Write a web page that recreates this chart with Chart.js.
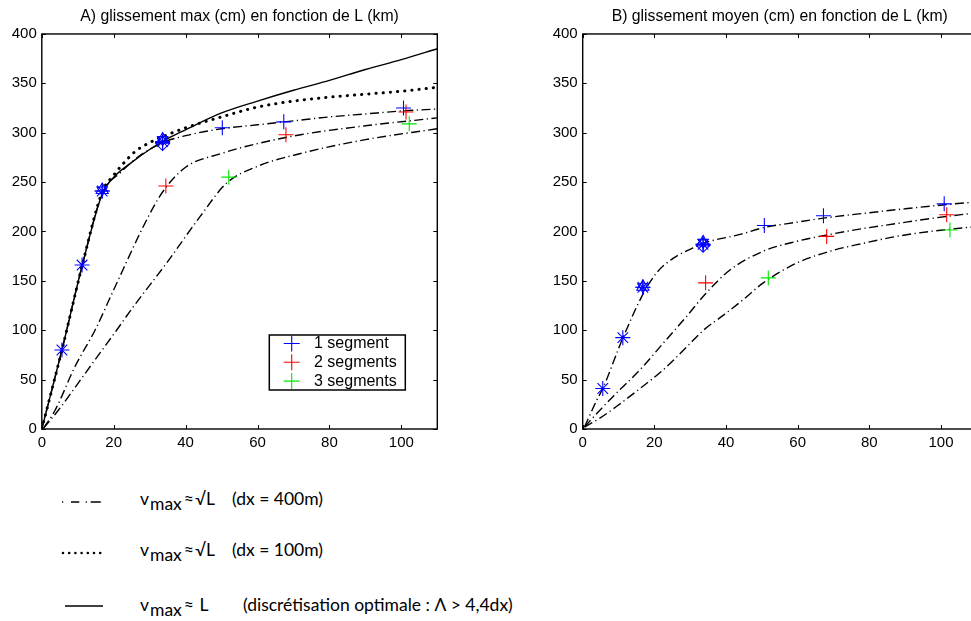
<!DOCTYPE html>
<html>
<head>
<meta charset="utf-8">
<script src="https://cdn.jsdelivr.net/npm/chart.js@4.4.1/dist/chart.umd.min.js"></script>
<style>
  html, body { margin: 0; padding: 0; background: #fff; overflow: hidden; width: 971px; height: 621px; }
  #boxA { position: absolute; left: 0; top: 0; }
  #boxB { position: absolute; left: 530px; top: 0; }
  .key { position: absolute; font-family: Lato, "Open Sans", sans-serif; font-size: 17.5px; line-height: 20px; color: #000; white-space: nowrap; }
  .key sub { font-size: 17.5px; vertical-align: -5px; line-height: 0; margin-left: 1px; }
  .key .ap { margin: 0 1px 0 2px; }
  svg.sample { position: absolute; left: 0; top: 0; }
</style>
</head>
<body>
<canvas id="boxA" width="450" height="460"></canvas>
<canvas id="boxB" width="460" height="460"></canvas>

<svg class="sample" width="120" height="621">
  <path d="M62 502 H102" stroke="#000" stroke-width="1.4" fill="none" stroke-dasharray="1.2 7.8 8.3 6.4 1.2 3.8 10"></path>
  <path d="M63 553 H101" stroke="#000" stroke-width="2.6" fill="none" stroke-linecap="round" stroke-dasharray="0 6.2"></path>
  <path d="M65 606 H103" stroke="#000" stroke-width="1.4" fill="none"></path>
</svg>
<div class="key" style="left:140px; top:489px">v<sub>max</sub><span class="ap">≈</span>√L</div>
<div class="key" style="left:232px; top:489px">(dx = 400m)</div>
<div class="key" style="left:140px; top:540px">v<sub>max</sub><span class="ap">≈</span>√L</div>
<div class="key" style="left:232px; top:540px">(dx = 100m)</div>
<div class="key" style="left:140px; top:595px">v<sub>max</sub><span class="ap">≈</span> L</div>
<div class="key" style="left:243px; top:595px">(discrétisation optimale : Λ &gt; 4,4dx)</div>

<script>
/***********************
 * DATA
 ***********************/
const tickL = [0, 20, 40, 60, 80, 100];
const tickV = [0, 50, 100, 150, 200, 250, 300, 350, 400];

// A) glissement max - courbes
const aSolidL = [0, 5.6, 11.2, 16.8, 20, 25, 30, 35, 40, 50, 60, 70, 80, 90, 100, 110];
const aSolidV = [0, 80, 165, 238, 255, 270, 283, 294, 303, 320, 332, 343, 353, 364, 374, 385];
const aDotL = [0, 5.6, 11.2, 16.8, 20, 22, 26, 30, 35, 40, 50, 60, 70, 80, 90, 100, 110];
const aDotV = [0, 80, 165, 240, 257, 266, 281, 290, 298, 305, 316, 326, 332, 336, 339, 342, 346];
const aDd1L = [0, 5.6, 11.2, 16.8, 22, 27, 33.6, 40, 50, 60, 70, 80, 90, 100, 110];
const aDd1V = [0, 80, 165, 238, 260, 276, 290, 297, 304, 308, 312, 316, 319, 322, 324];
const aDd2L = [0.5, 3.7, 9.2, 14.8, 20, 29.2, 33.6, 40, 50, 60, 72, 90, 110];
const aDd2V = [1, 19, 63, 100, 141, 212, 240, 265, 279, 289, 298, 307, 315];
const aDd3L = [0.5, 4.6, 12, 16.2, 20.8, 25.5, 34.7, 44, 51.4, 60, 72, 90, 110];
const aDd3V = [1, 19, 56, 77, 100, 124, 168, 215, 249, 266, 279, 293, 304];

// A) glissement max - points
const aStarL = [5.6, 11.2, 16.8, 33.6];
const aStarV = [80, 166, 241, 291];
const aBlueL = [16.8, 33.6, 50.2, 67.3, 100.6];
const aBlueV = [241, 290, 305, 311, 325];
const aRedL = [34.5, 67.9, 101.3];
const aRedV = [246, 298, 321];
const aGreenL = [52, 102.2];
const aGreenV = [255, 309];
const aTriL = [16.8, 33.6];
const aTriV = [242, 293];
const aDiaL = [33.6];
const aDiaV = [289];

// B) glissement moyen - courbes
const bDd1L = [0.5, 3.9, 5.6, 11.2, 16.9, 20.6, 25.3, 31.8, 33.6, 43.9, 50.7, 60, 67.2, 80, 90, 100.9, 110];
const bDd1V = [2, 29, 41, 92, 137, 158, 173, 185, 188, 197, 204, 209.5, 213.5, 219, 223, 227, 230];
const bDd2L = [0.5, 4, 8.5, 16, 22.5, 29, 34.3, 41.1, 50.4, 59.7, 69, 78.3, 87.6, 96.9, 110];
const bDd2V = [2, 16, 33, 60, 87, 114, 137, 161, 180, 190, 197, 203, 208, 213, 219];
const bDd3L = [0.5, 4.8, 9.5, 16, 22.5, 29, 33.7, 39.2, 44.8, 50.4, 59.7, 69, 78.3, 87.6, 96.9, 110];
const bDd3V = [2, 11, 23, 41, 60, 83, 100, 115, 131, 148, 168, 180, 188, 195, 200, 205];

// B) glissement moyen - points
const bStarL = [5.6, 11.2, 16.8, 33.6];
const bStarV = [41, 92.5, 143.5, 187];
const bBlueL = [16.8, 33.6, 50.7, 67.2, 100.9];
const bBlueV = [143.5, 187, 206, 216, 228];
const bRedL = [34.3, 68.1, 101.6];
const bRedV = [148, 195, 217];
const bGreenL = [51.8, 102.5];
const bGreenV = [153, 201.5];
const bTriL = [16.8, 33.6];
const bTriV = [144, 189];
const bDiaL = [33.6];
const bDiaV = [186];

/***********************
 * STYLES
 ***********************/
const FONT = '"Liberation Sans", Helvetica, Arial, sans-serif';
const BLUE = '#0000ff';
const RED = '#ff0000';
const GREEN = '#00e600';

const pts = (xs, ys) => xs.map((x, i) => ({ x, y: ys[i] }));

function curve(xs, ys, style) {
    return Object.assign({
        data: pts(xs, ys), showLine: true, pointRadius: 0, borderColor: '#000',
        borderWidth: 1.4, cubicInterpolationMode: 'monotone', fill: false
    }, style);
}

function marks(xs, ys, color, pointStyle, extra) {
    return Object.assign({
        data: pts(xs, ys), showLine: false, pointStyle, pointRadius: 7.5,
        borderColor: color, pointBorderColor: color, backgroundColor: 'transparent',
        pointBackgroundColor: 'transparent', pointBorderWidth: 1.1
    }, extra);
}

const dashDot = { borderDash: [9, 3.5, 1.2, 3.5] };
const dotted = { borderDash: [0.2, 7], borderCapStyle: 'round', borderWidth: 3 };

/***********************
 * PLUGINS
 ***********************/
// box around the plot, ticks pointing inward on all sides
const frame = {
    id: 'frame',
    afterDatasetsDraw(chart) {
        const { ctx, chartArea: a, scales: { x, y } } = chart;
        ctx.save();
        ctx.strokeStyle = '#000';
        ctx.lineWidth = 1.4;
        ctx.strokeRect(a.left, a.top, a.width, a.height);
        ctx.lineWidth = 1;
        ctx.beginPath();
        x.ticks.forEach(t => {
            const px = Math.round(x.getPixelForValue(t.value)) + 0.5;
            ctx.moveTo(px, a.bottom); ctx.lineTo(px, a.bottom - 4);
            ctx.moveTo(px, a.top); ctx.lineTo(px, a.top + 4);
        });
        y.ticks.forEach(t => {
            const py = Math.round(y.getPixelForValue(t.value)) + 0.5;
            ctx.moveTo(a.left, py); ctx.lineTo(a.left + 4, py);
            ctx.moveTo(a.right, py); ctx.lineTo(a.right - 4, py);
        });
        ctx.stroke();
        ctx.restore();
    }
};

// legend box inside the plot (bottom right)
const boxLegend = {
    id: 'boxLegend',
    afterDraw(chart, args, o) {
        if (!o.display) return;
        const { ctx, chartArea: a } = chart;
        const items = chart.data.datasets.filter(d => d.inLegend);
        const x0 = a.right - o.right - o.width;
        const y0 = a.bottom - o.bottom - o.height;
        ctx.save();
        ctx.fillStyle = '#fff';
        ctx.fillRect(x0, y0, o.width, o.height);
        ctx.strokeStyle = '#000';
        ctx.lineWidth = 1.5;
        ctx.strokeRect(x0, y0, o.width, o.height);
        items.forEach((d, i) => {
            const y = y0 + o.rowTop + i * o.rowGap;
            const mx = x0 + o.markX;
            ctx.strokeStyle = d.borderColor;
            ctx.lineWidth = 1.1;
            ctx.beginPath();
            ctx.moveTo(mx - 8, y); ctx.lineTo(mx + 8, y);
            ctx.moveTo(mx, y - 8); ctx.lineTo(mx, y + 8);
            ctx.stroke();
            ctx.fillStyle = '#000';
            ctx.font = '16px ' + FONT;
            ctx.textBaseline = 'middle';
            ctx.fillText(d.label, x0 + o.textX, y);
        });
        ctx.restore();
    }
};

/***********************
 * CHARTS
 ***********************/
function makeChart(id, title, yAxisWidth, padRight, datasets, legend) {
    return new Chart(document.getElementById(id), {
        type: 'scatter',
        data: { datasets },
        options: {
            responsive: false,
            animation: false,
            layout: { padding: { left: 0, right: padRight, top: 0, bottom: 0 } },
            plugins: {
                legend: { display: false },
                tooltip: { enabled: false },
                title: {
                    display: true, text: title, color: '#000', fullSize: false,
                    font: { family: FONT, size: 15.8, weight: 'normal' },
                    padding: { top: 7, bottom: 8.0 }
                },
                boxLegend: legend
            },
            scales: {
                x: {
                    type: 'linear', min: 0, max: 110,
                    grid: { display: false, drawTicks: false },
                    border: { display: false },
                    afterBuildTicks: s => { s.ticks = tickL.map(v => ({ value: v })); },
                    afterFit: s => { s.height = 31; },
                    ticks: { color: '#000', padding: 5, maxRotation: 0, font: { family: FONT, size: 15 } }
                },
                y: {
                    type: 'linear', min: 0, max: 400,
                    grid: { display: false, drawTicks: false },
                    border: { display: false },
                    afterBuildTicks: s => { s.ticks = tickV.map(v => ({ value: v })); },
                    afterFit: s => { s.width = yAxisWidth; },
                    ticks: { color: '#000', padding: 5, font: { family: FONT, size: 15 } }
                }
            }
        },
        plugins: [frame, boxLegend]
    });
}

makeChart('boxA', 'A) glissement max (cm) en fonction de L (km)', 41.8, 12.7, [
    marks(aBlueL, aBlueV, BLUE, 'cross', { label: '1 segment', inLegend: true }),
    marks(aRedL, aRedV, RED, 'cross', { label: '2 segments', inLegend: true }),
    marks(aGreenL, aGreenV, GREEN, 'cross', { label: '3 segments', inLegend: true }),
    marks(aStarL, aStarV, BLUE, 'star'),
    marks(aTriL, aTriV, BLUE, 'triangle', { pointRadius: 7 }),
    marks(aTriL, aTriV, BLUE, 'triangle', { pointRadius: 6, pointRotation: 180 }),
    marks(aDiaL, aDiaV, BLUE, 'rectRot', { pointRadius: 7 }),
    curve(aSolidL, aSolidV, {}),
    curve(aDotL, aDotV, dotted),
    curve(aDd1L, aDd1V, dashDot),
    curve(aDd2L, aDd2V, dashDot),
    curve(aDd3L, aDd3V, dashDot)
], {
    display: true, width: 136, height: 55, right: 32, bottom: 39,
    rowTop: 8.5, rowGap: 18.8, markX: 22.4, textX: 44.7
});

makeChart('boxB', 'B) glissement moyen (cm) en fonction de L (km)', 52.7, 13.2, [
    marks(bBlueL, bBlueV, BLUE, 'cross'),
    marks(bRedL, bRedV, RED, 'cross'),
    marks(bGreenL, bGreenV, GREEN, 'cross'),
    marks(bStarL, bStarV, BLUE, 'star'),
    marks(bTriL, bTriV, BLUE, 'triangle', { pointRadius: 7 }),
    marks(bTriL, bTriV, BLUE, 'triangle', { pointRadius: 6, pointRotation: 180 }),
    marks(bDiaL, bDiaV, BLUE, 'rectRot', { pointRadius: 7 }),
    curve(bDd1L, bDd1V, dashDot),
    curve(bDd2L, bDd2V, dashDot),
    curve(bDd3L, bDd3V, dashDot)
], { display: false });
</script>
</body>
</html>
